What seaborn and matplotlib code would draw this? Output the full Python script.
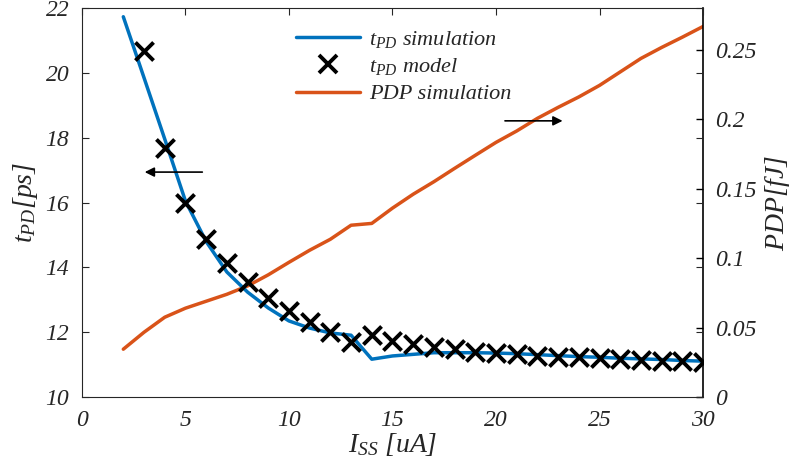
import seaborn as sns
import matplotlib.pyplot as plt
import matplotlib.lines as mlines
import pandas as pd

# current sweep [uA]
iss_sim = [2, 3, 4, 5, 6, 7, 8, 9, 10, 11, 12, 13, 14, 15, 16, 17, 18, 19, 20,
           21, 22, 23, 24, 25, 26, 27, 28, 29, 30]
# tPD simulation [ps]
tpd_sim = [21.73, 19.85, 17.96, 16.05, 14.8, 13.86, 13.24, 12.75, 12.35, 12.13,
           11.98, 11.91, 11.17, 11.27, 11.32, 11.37, 11.37, 11.37, 11.36,
           11.34, 11.31, 11.28, 11.25, 11.23, 11.2, 11.18, 11.16, 11.13, 11.11]
# tPD model [ps]
iss_model = list(range(3, 31))
tpd_model = [20.68, 17.69, 15.98, 14.88, 14.14, 13.55, 13.06, 12.67, 12.31,
             12.0, 11.71, 11.93, 11.73, 11.64, 11.54, 11.48, 11.39, 11.36,
             11.33, 11.27, 11.23, 11.23, 11.2, 11.17, 11.15, 11.13, 11.11, 11.08]
# PDP simulation [fJ]
pdp_sim = [0.0345, 0.0467, 0.0575, 0.064, 0.069, 0.074, 0.080, 0.088, 0.097,
           0.1057, 0.1136, 0.1237, 0.125, 0.136, 0.146, 0.155, 0.1646, 0.174,
           0.1833, 0.1915, 0.2006, 0.2085, 0.216, 0.2243, 0.234, 0.2437, 0.2516,
           0.259, 0.2667]

sim = pd.DataFrame({"iss": iss_sim, "tpd": tpd_sim, "pdp": pdp_sim})
model = pd.DataFrame({"iss": iss_model, "tpd": tpd_model})

sns.set_style("white")
plt.rcParams['font.family'] = ['Liberation Serif', 'DejaVu Serif']
plt.rcParams['font.style'] = 'italic'
plt.rcParams['mathtext.fontset'] = 'custom'
plt.rcParams['mathtext.it'] = 'Liberation Serif:italic'
plt.rcParams['mathtext.rm'] = 'Liberation Serif:italic'
plt.rcParams['mathtext.default'] = 'it'

blue = "#0072BD"
orange = "#D95319"
grey = "#262626"

fig = plt.figure(figsize=(8.03, 4.70), dpi=100)
ax = fig.add_axes([0.102, 0.155, 0.7735, 0.828])
ax2 = ax.twinx()

sns.lineplot(data=sim, x="iss", y="pdp", ax=ax2, color=orange, lw=2.5)
sns.lineplot(data=sim, x="iss", y="tpd", ax=ax, color=blue, lw=2.5)
sns.scatterplot(data=model, x="iss", y="tpd", ax=ax, marker="x", s=170,
                color="black", linewidth=2.8, zorder=5)

ax.set_zorder(ax2.get_zorder() + 1)
ax.patch.set_visible(False)

ax.set_xlim(0, 30)
ax.set_ylim(10, 22)
ax2.set_ylim(0, 0.28)
ax.set_xticks([0, 5, 10, 15, 20, 25, 30])
ax.set_yticks([10, 12, 14, 16, 18, 20, 22])
ax2.set_yticks([0, 0.05, 0.1, 0.15, 0.2, 0.25])
ax2.set_yticklabels(["0", "0.05", "0.1", "0.15", "0.2", "0.25"])

ax.tick_params(direction="in", top=True, right=True, length=5, width=0.8,
               colors=grey, labelsize=17, labelcolor=grey, pad=9)
ax2.tick_params(direction="in", length=5, width=1.0, colors="black",
                labelsize=17, labelcolor=grey, pad=9)
for s in ["left", "top", "bottom"]:
    ax.spines[s].set_color(grey)
    ax.spines[s].set_linewidth(0.8)
    ax2.spines[s].set_visible(False)
ax.spines["right"].set_visible(False)
ax2.spines["right"].set_color("black")
ax2.spines["right"].set_linewidth(1.2)

ax.set_xlabel("$I_{SS}$ [uA]", fontsize=20, color=grey, labelpad=0)
ax.set_ylabel("$t_{PD}[ps]$", fontsize=20, color=grey, labelpad=4)
ax2.set_ylabel("$PDP[fJ]$", fontsize=20, color=grey, labelpad=4)

# direction arrows
ax.annotate("", xy=(2.9, 16.94), xytext=(5.95, 16.94),
            arrowprops=dict(arrowstyle="-|>", color="black", lw=1.2,
                            mutation_scale=14))
ax.annotate("", xy=(23.35, 18.52), xytext=(20.3, 18.52),
            arrowprops=dict(arrowstyle="-|>", color="black", lw=1.2,
                            mutation_scale=14))

handles = [
    mlines.Line2D([], [], color=blue, lw=2.5),
    mlines.Line2D([], [], color="black", marker="x", ls="none", ms=12.5, mew=2.8),
    mlines.Line2D([], [], color=orange, lw=2.5),
]
labels = ["$t_{PD}$ simulation", "$t_{PD}$ model", "PDP simulation"]
ax.legend(handles, labels, loc="upper left", bbox_to_anchor=(0.33, 0.97),
          borderaxespad=0, frameon=False,
          prop={"family": "Liberation Serif", "style": "italic", "size": 16},
          handlelength=2.9, handletextpad=0.4, labelspacing=0.3)

plt.savefig("out.png", dpi=100)
